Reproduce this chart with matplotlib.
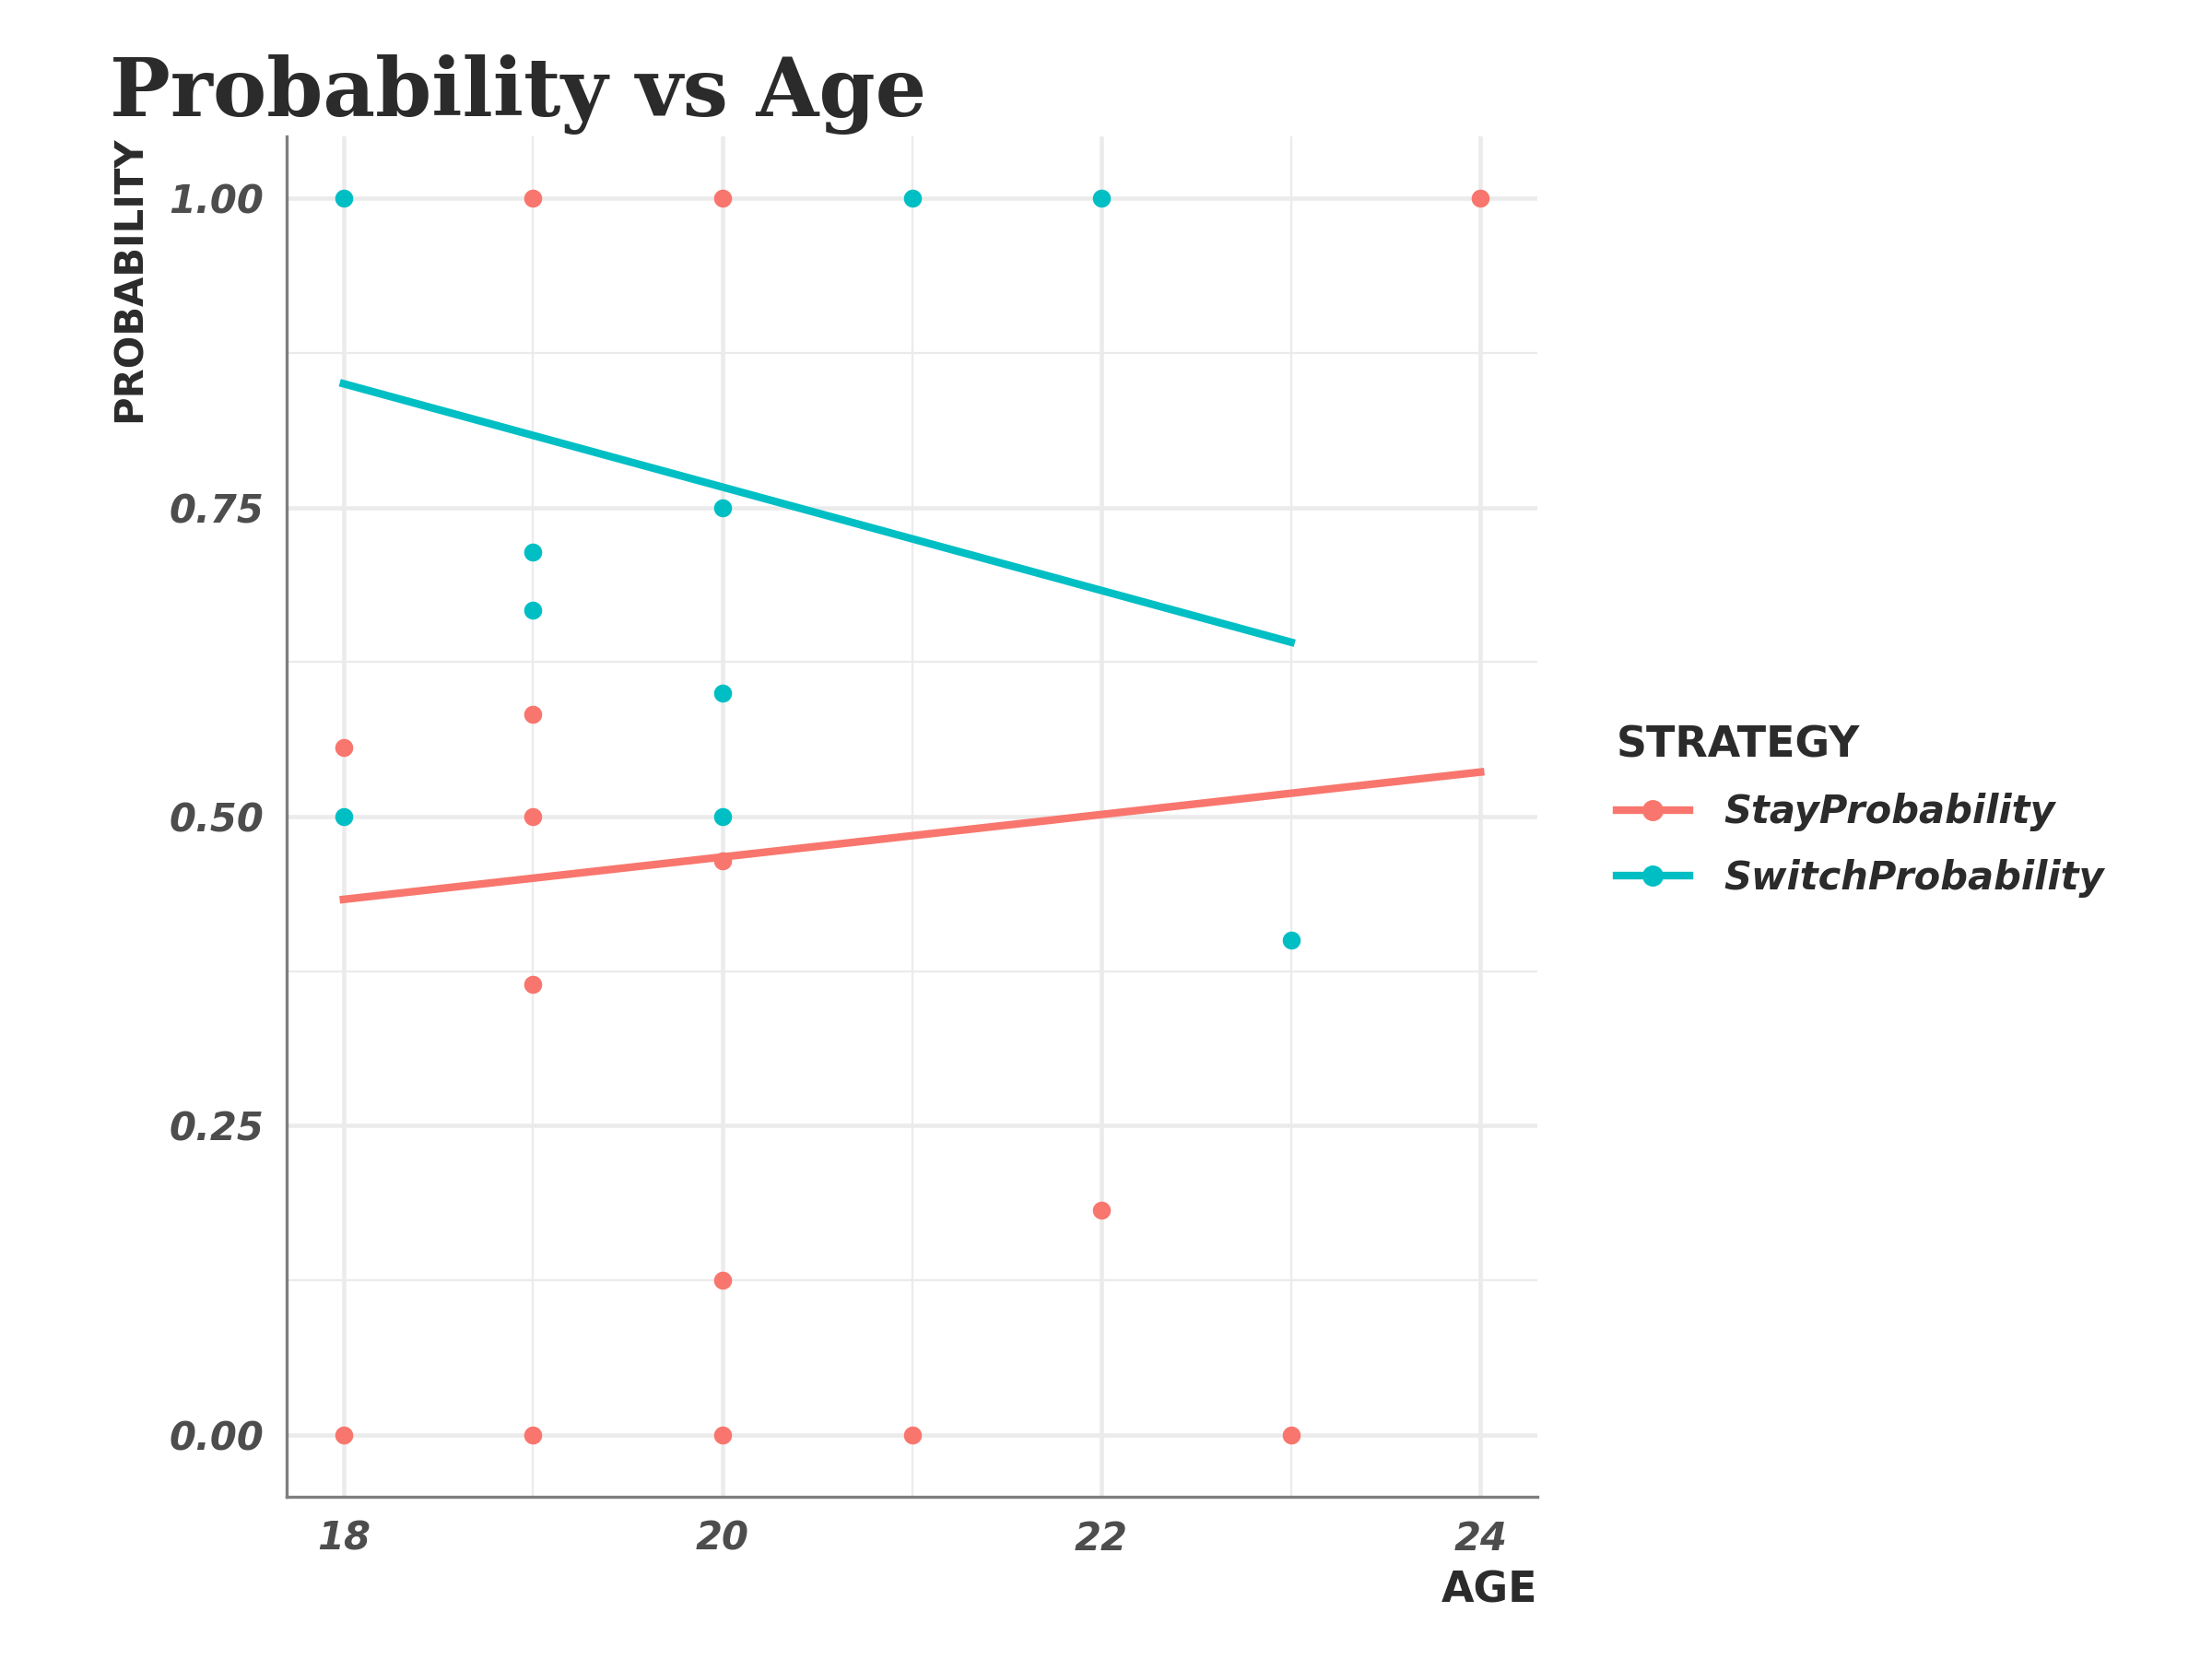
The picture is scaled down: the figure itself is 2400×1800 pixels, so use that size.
import matplotlib
matplotlib.use("Agg")
import matplotlib.pyplot as plt
from matplotlib.lines import Line2D

# colours as ggplot hue defaults
stay_col = '#F8766D'
switch_col = '#00BFC4'

# points
stay_age = [18, 18, 19, 19, 19, 19, 19, 20, 20, 20, 20, 21, 22, 23, 24]
stay_prob = [0.556, 0.0, 1.0, 0.583, 0.5, 0.364, 0.0, 1.0, 0.464, 0.125, 0.0, 0.0, 0.182, 0.0, 1.0]
switch_age = [18, 18, 19, 19, 20, 20, 20, 21, 22, 23]
switch_prob = [1.0, 0.5, 0.714, 0.667, 0.75, 0.6, 0.5, 1.0, 1.0, 0.4]

# lm fit lines (endpoints)
stay_fit_age = [18, 24]
stay_fit_prob = [0.433, 0.536]
switch_fit_age = [18, 23]
switch_fit_prob = [0.850, 0.641]

y_ticks = [0.0, 0.25, 0.5, 0.75, 1.0]
y_tick_labels = ['0.00', '0.25', '0.50', '0.75', '1.00']
x_ticks = [18, 20, 22, 24]

fig = plt.figure(figsize=(8, 6), dpi=300)
ax = fig.add_axes([0.1296, 0.0978, 0.5654, 0.82])

grid = '#EBEBEB'
for y in [0.125, 0.375, 0.625, 0.875]:
    ax.axhline(y, color=grid, lw=0.55, zorder=0)
for y in y_ticks:
    ax.axhline(y, color=grid, lw=1.1, zorder=0)
for x in [19, 21, 23]:
    ax.axvline(x, color=grid, lw=0.55, zorder=0)
for x in x_ticks:
    ax.axvline(x, color=grid, lw=1.1, zorder=0)

ax.plot(stay_fit_age, stay_fit_prob, color=stay_col, lw=2.0, zorder=2)
ax.plot(switch_fit_age, switch_fit_prob, color=switch_col, lw=2.0, zorder=2)
ax.scatter(stay_age, stay_prob, s=22, color=stay_col, zorder=3, linewidths=0)
ax.scatter(switch_age, switch_prob, s=22, color=switch_col, zorder=3, linewidths=0)

ax.set_xlim(17.7, 24.3)
ax.set_ylim(-0.05, 1.05)
ax.set_xticks(x_ticks)
ax.set_yticks(y_ticks)
ax.set_yticklabels(y_tick_labels)
ax.tick_params(length=0, labelsize=10, labelcolor='#4D4D4D', pad=6)
for lab in ax.get_xticklabels() + ax.get_yticklabels():
    lab.set_fontweight('bold')
    lab.set_fontstyle('italic')

for s in ['top', 'right']:
    ax.spines[s].set_visible(False)
for s in ['left', 'bottom']:
    ax.spines[s].set_color('#7F7F7F')
    ax.spines[s].set_linewidth(0.8)

fig.text(0.0496, 0.930, 'Probability vs Age', family='DejaVu Serif', fontweight='bold',
         fontsize=21, color='#2B2B2B', ha='left', va='baseline')
fig.text(0.0588, 0.9178, 'PROBABILITY', rotation=90, fontweight='bold', fontsize=10,
         color='#2B2B2B', ha='center', va='top')
fig.text(0.695, 0.034, 'AGE', fontweight='bold', fontsize=11, color='#2B2B2B',
         ha='right', va='baseline')

handles = [Line2D([], [], color=stay_col, lw=2.0, marker='o', ms=4.5),
           Line2D([], [], color=switch_col, lw=2.0, marker='o', ms=4.5)]
leg = fig.legend(handles, ['StayProbability', 'SwitchProbability'], title='STRATEGY',
                 loc='upper left', bbox_to_anchor=(0.715, 0.584), frameon=False,
                 handlelength=1.9, handletextpad=0.9, labelspacing=0.7,
                 prop={'size': 10, 'weight': 'bold', 'style': 'italic'})
leg.get_title().set_fontweight('bold')
leg.get_title().set_fontsize(11)
leg.get_title().set_color('#2B2B2B')
leg._legend_box.align = 'left'
for t in leg.get_texts():
    t.set_color('#2B2B2B')

fig.savefig('out.png', dpi=300, facecolor='white')
